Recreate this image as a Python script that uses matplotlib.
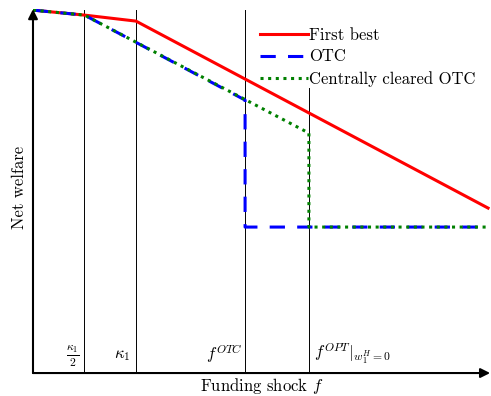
import numpy as np
import matplotlib
matplotlib.use("Agg")
import matplotlib.pyplot as plt

plt.rcParams["font.family"] = "serif"
plt.rcParams["font.serif"] = ["cmr10", "DejaVu Serif"]
plt.rcParams["mathtext.fontset"] = "cm"
plt.rcParams["axes.formatter.use_mathtext"] = True

# thresholds on the funding shock axis (kappa_1 = 1)
kappa_half = 0.5
kappa1 = 1.0
f_otc = 2.06
f_opt = 2.68
f_max = 4.42

# welfare levels
fb_x = [0, kappa_half, kappa1, f_max]
fb_y = [3.63, 3.58, 3.52, 1.65]

otc_x = [0, kappa_half, f_otc, f_otc, f_max]
otc_y = [3.63, 3.58, 2.73, 1.46, 1.46]

ccp_x = [0, kappa_half, f_opt, f_opt, f_max]
ccp_y = [3.63, 3.58, 2.40, 1.46, 1.46]

vline_x = [kappa_half, kappa1, f_otc, f_opt]
vline_top = [3.63, 3.63, 3.63, 2.85]
tick_labels = [r"$\frac{\kappa_1}{2}$", r"$\kappa_1$", r"$f^{OTC}$", r"$f^{OPT}|_{w_1^H=0}$"]

fig = plt.figure(figsize=(4.91, 3.96), dpi=100)
ax = fig.add_axes([0.0672, 0.058, 0.931, 0.919])
xmax, ymax = 4.44, 3.64
ax.set_xlim(0, xmax)
ax.set_ylim(0, ymax)

for x, top in zip(vline_x, vline_top):
    ax.plot([x, x], [0, top], color="black", lw=0.7)

ax.plot(fb_x, fb_y, color="red", lw=2.2, label="First best")
ax.plot(otc_x, otc_y, color="blue", lw=2.2, ls=(0, (5, 4)), label="OTC")
ax.plot(ccp_x, ccp_y, color="green", lw=2.2, ls=(0, (1, 1.5)), label="Centrally cleared OTC")

# tick-like labels next to the vertical lines
ax.text(kappa_half - 0.05, 0.17, tick_labels[0], ha="right", va="center", fontsize=12)
ax.text(kappa1 - 0.05, 0.18, tick_labels[1], ha="right", va="center", fontsize=12)
ax.text(f_otc - 0.02, 0.19, tick_labels[2], ha="right", va="center", fontsize=12)
ax.text(f_opt + 0.05, 0.19, tick_labels[3], ha="left", va="center", fontsize=12)

for s in ax.spines.values():
    s.set_visible(False)
ax.set_xticks([])
ax.set_yticks([])
arrow = dict(arrowstyle="-|>", color="black", lw=1.5, mutation_scale=14, shrinkA=0, shrinkB=0)
ax.annotate("", xy=(xmax, 0), xytext=(0, 0), arrowprops=arrow, annotation_clip=False)
ax.annotate("", xy=(0, ymax), xytext=(0, 0), arrowprops=arrow, annotation_clip=False)

ax.set_xlabel(r"Funding shock $f$", fontsize=12, labelpad=2)
ax.set_ylabel("Net welfare", fontsize=12)
ax.yaxis.set_label_coords(-0.013, 0.51)

ax.legend(loc="upper left", bbox_to_anchor=(0.482, 0.968), frameon=False, fontsize=12,
          handlelength=2.9, handletextpad=0.05, labelspacing=0.38, borderaxespad=0)

plt.savefig("out.png", dpi=100)
